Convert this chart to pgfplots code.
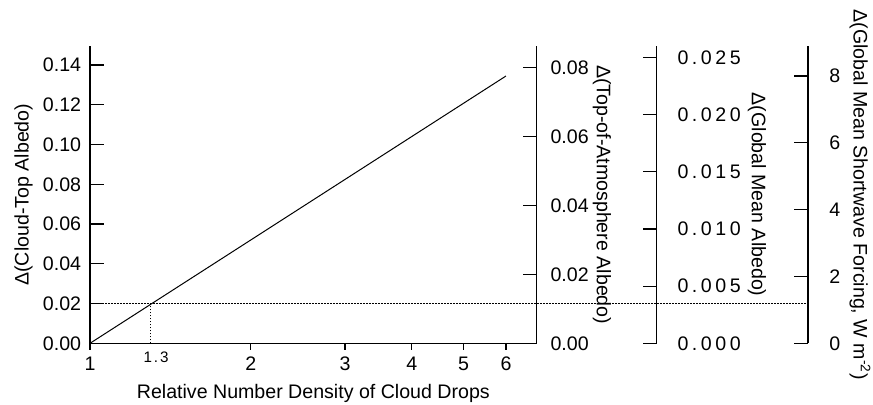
\documentclass[border=0pt]{standalone}
\usepackage{fontspec}
\setmainfont{Liberation Sans}
\newfontfamily\spaced[LetterSpace=18]{Liberation Sans}
\newfontfamily\spacedb[LetterSpace=12]{Liberation Sans}
\usepackage{pgfplots}
\pgfplotsset{compat=1.18}

\pgfplotsset{
  myax/.style={
    scale only axis, height=148.65pt, ymin=0,
    at={(0,0)}, anchor=south west,
    font=\fontsize{9.8}{11.8}\selectfont,
    /pgf/number format/assume math mode=true,
    scaled y ticks=false, scaled x ticks=false,
    axis line style={black, line width=0.7pt},
    tick style={black, line width=0.6pt},
    major tick length=7pt,
    minor tick num=0,
  },
  noarrows/.style={
    every outer x axis line/.append style={-},
    every outer y axis line/.append style={-},
    every inner x axis line/.append style={-},
    every inner y axis line/.append style={-},
    axis line style={-},
  },
  yonly/.style={myax, xmin=0, xmax=1, axis x line=none, xtick=\empty},
  fix2/.style={yticklabel style={/pgf/number format/fixed, /pgf/number format/fixed zerofill, /pgf/number format/precision=2}},
}

\begin{document}
\begin{tikzpicture}
\useasboundingbox (-45pt,-30.35pt) rectangle (391.5pt,171.65pt);

% main data axis with x axis
\begin{axis}[myax, width=223.35pt, xmode=log, xmin=1, xmax=6.85, ymax=0.1496,
  axis x line=bottom, axis y line=none, ytick=\empty, noarrows,
  clip=false,
  major tick length=3.3pt, tick align=outside,
  xtick={1,2,3,4,5,6}, xticklabels={1,2,3,4,5,6},
  extra x ticks={1.3},
  extra x tick labels={{\fontsize{7.6}{9}\spacedb 1.3}},
  extra tick style={major tick length=0pt, tick label style={yshift=-1.0pt, xshift=2.6pt}},
  xlabel={Relative Number Density of Cloud Drops},
  xlabel style={at={(axis description cs:0.5,-0.167)}, anchor=center},
]
\addplot[black, line width=0.5pt] coordinates {(1,0) (6,0.1345)};
\addplot[black, line width=0.5pt, dash pattern=on 0.9pt off 0.6pt] coordinates {(1,0.02) (22,0.02)};
\addplot[black, line width=0.5pt, dash pattern=on 0.9pt off 0.6pt] coordinates {(1.3,0) (1.3,0.02)};
\end{axis}

% left y axis: cloud-top albedo
\begin{axis}[yonly, width=223.35pt, ymax=0.1496,
  axis y line=left, noarrows, tick align=inside,
  ytick={0,0.02,0.04,0.06,0.08,0.10,0.12,0.14},
  fix2,
  yticklabel style={xshift=-0.9pt},
  ylabel={Δ(Cloud-Top Albedo)},
  ylabel style={at={(axis description cs:-0.149,0.5)}, anchor=center},
]
\end{axis}

% TOA albedo
\begin{axis}[yonly, width=223.35pt, ymax=0.0863,
  axis y line=right, noarrows, tick align=inside,
  ytick={0,0.02,0.04,0.06,0.08},
  fix2,
  yticklabel style={xshift=3.4pt},
  ylabel={Δ(Top-of-Atmosphere Albedo)},
  ylabel style={at={(axis description cs:1.146,0.5)}, rotate=180, anchor=center},
]
\end{axis}

% Global mean albedo
\begin{axis}[yonly, width=283.35pt, ymax=0.026,
  axis y line=right, noarrows, tick align=inside,
  ytick={0,0.005,0.010,0.015,0.020,0.025},
  yticklabels={0.000,0.005,0.010,0.015,0.020,0.025},
  yticklabel style={xshift=6.9pt, font=\fontsize{9.8}{11.8}\spaced},
  ylabel={Δ(Global Mean Albedo)},
  ylabel style={at={(axis description cs:1.177,0.5)}, rotate=180, anchor=center},
]
\end{axis}

% Forcing
\begin{axis}[yonly, width=359pt, ymax=8.9,
  axis y line=right, noarrows, tick align=inside,
  ytick={0,2,4,6,8},
  yticklabel style={xshift=7.2pt},
  ylabel={Δ(Global Mean Shortwave Forcing, W m\textsuperscript{-2})},
  ylabel style={at={(axis description cs:1.0724,0.5)}, rotate=180, anchor=center},
]
\end{axis}
\end{tikzpicture}
\end{document}
